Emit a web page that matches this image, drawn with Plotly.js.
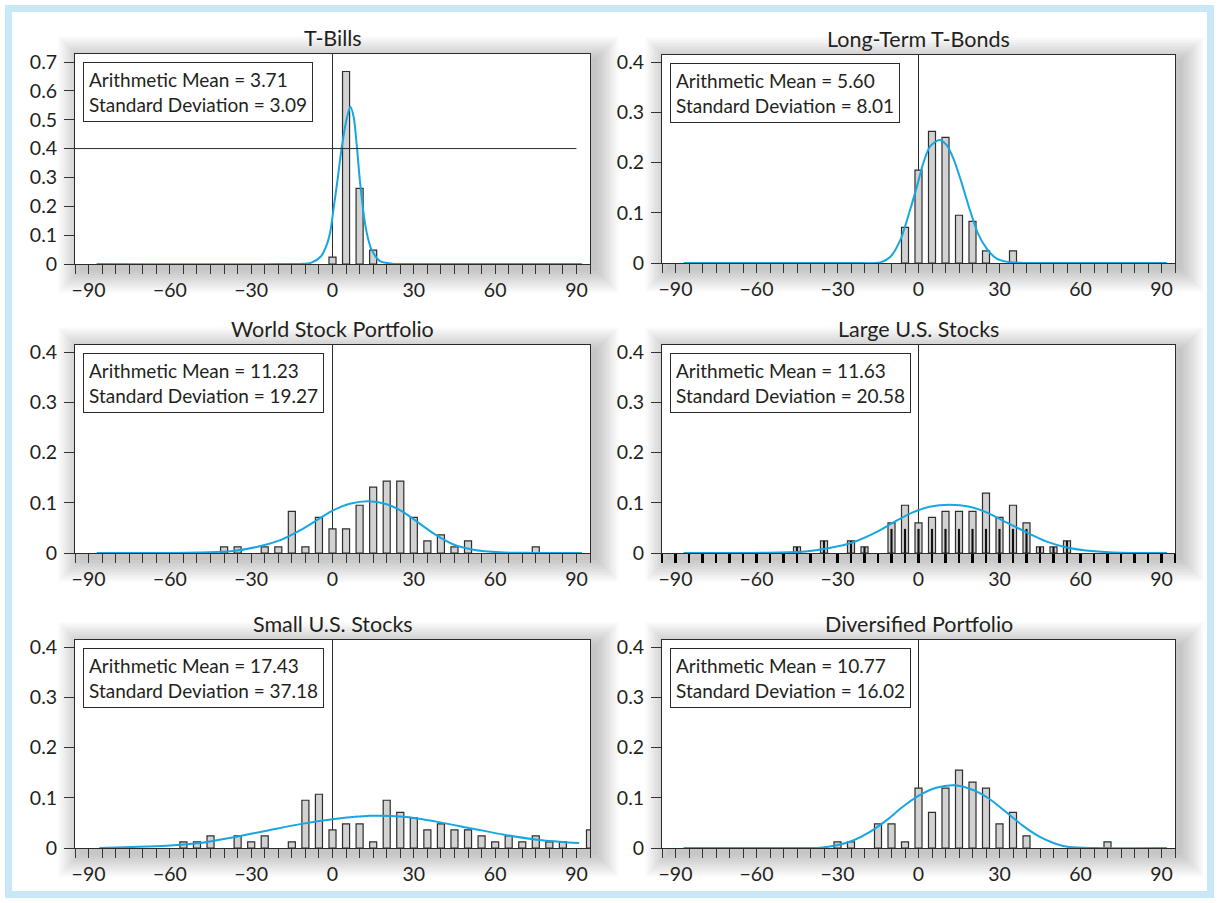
<!DOCTYPE html>
<html>
<head>
<meta charset="utf-8">
<script src="https://cdn.plot.ly/plotly-3.0.1.min.js"></script>
<style>
html,body{margin:0;padding:0;background:#ffffff;}
#chart{width:1219px;height:903px;}
</style>
</head>
<body>
<div id="chart"></div>
<script>
// ---------- DATA ----------
const panelTitles = ["T-Bills", "Long-Term T-Bonds", "World Stock Portfolio", "Large U.S. Stocks", "Small U.S. Stocks", "Diversified Portfolio"];
const arithmeticMeans = ["3.71", "5.60", "11.23", "11.63", "17.43", "10.77"];
const standardDeviations = ["3.09", "8.01", "19.27", "20.58", "37.18", "16.02"];

// histogram bins (return %, bin centre) and relative frequencies
const tbillsBins = [0, 5, 10, 15];
const tbillsFreq = [0.024, 0.667, 0.262, 0.048];

const bondsBins = [-5, 0, 5, 10, 15, 20, 25, 35];
const bondsFreq = [0.071, 0.185, 0.262, 0.250, 0.095, 0.083, 0.024, 0.024];

const worldBins = [-40, -35, -25, -20, -15, -10, -5, 0, 5, 10, 15, 20, 25, 30, 35, 40, 45, 50, 75];
const worldFreq = [0.012, 0.012, 0.012, 0.012, 0.083, 0.012, 0.071, 0.048, 0.048, 0.095, 0.131, 0.143, 0.143, 0.071, 0.024, 0.036, 0.012, 0.024, 0.012];

const largeBins = [-45, -35, -25, -20, -10, -5, 0, 5, 10, 15, 20, 25, 30, 35, 40, 45, 50, 55];
const largeFreq = [0.012, 0.024, 0.024, 0.012, 0.060, 0.095, 0.060, 0.071, 0.083, 0.083, 0.083, 0.119, 0.071, 0.095, 0.060, 0.012, 0.012, 0.024];

const smallBins = [-55, -50, -45, -35, -30, -25, -15, -10, -5, 0, 5, 10, 15, 20, 25, 30, 35, 40, 45, 50, 55, 60, 65, 70, 75, 80, 85, 95];
const smallFreq = [0.012, 0.012, 0.024, 0.024, 0.012, 0.024, 0.012, 0.095, 0.107, 0.036, 0.048, 0.048, 0.012, 0.095, 0.071, 0.060, 0.036, 0.048, 0.036, 0.036, 0.024, 0.012, 0.024, 0.012, 0.024, 0.012, 0.012, 0.036];

const diversBins = [-30, -25, -15, -10, -5, 0, 5, 10, 15, 20, 25, 30, 35, 40, 70];
const diversFreq = [0.012, 0.012, 0.048, 0.048, 0.012, 0.119, 0.071, 0.119, 0.155, 0.131, 0.119, 0.048, 0.071, 0.024, 0.012];

// fitted normal curves
const tbillsCurveX = [-87, -20, -8, -4.4, -2, -0.7, 0.5, 1.7, 3.5, 5.4, 6.6, 7.8, 9, 10.2, 12, 13.2, 14.5, 17.5, 22, 30, 92];
const tbillsCurveY = [0, 0, 0.004, 0.025, 0.07, 0.118, 0.2, 0.28, 0.41, 0.51, 0.545, 0.51, 0.406, 0.28, 0.14, 0.085, 0.048, 0.01, 0.001, 0, 0];

const bondsCurveX = [-87, -25, -14.1, -10.4, -6.7, -3.1, -0.6, 1.8, 4.3, 7.7, 10.4, 12.9, 16, 19, 22, 25.2, 28.8, 32.5, 37.4, 45, 92];
const bondsCurveY = [0, 0, 0.0013, 0.0126, 0.046, 0.106, 0.152, 0.199, 0.232, 0.245, 0.235, 0.208, 0.159, 0.106, 0.059, 0.029, 0.0093, 0.0027, 0.0005, 0, 0];

const worldCurveX = [-87, -60, -49, -36.7, -28, -19.5, -12, -5.9, 0.2, 6.4, 13.2, 20, 26, 32.3, 38.4, 44.6, 52, 61.8, 74, 92];
const worldCurveY = [0, 0.0002, 0.001, 0.004, 0.012, 0.025, 0.045, 0.065, 0.085, 0.098, 0.103, 0.097, 0.082, 0.058, 0.035, 0.017, 0.0066, 0.0013, 0.0002, 0];

const largeCurveX = [-87, -65, -51.7, -41.8, -33, -24.4, -15.8, -8.3, -2.1, 4.1, 11.5, 19, 25.2, 32.6, 40, 47.5, 55, 62, 72, 92];
const largeCurveY = [0, 0.0002, 0.0008, 0.003, 0.01, 0.021, 0.041, 0.064, 0.081, 0.092, 0.096, 0.092, 0.081, 0.061, 0.041, 0.0226, 0.011, 0.005, 0.0012, 0];

const smallCurveX = [-86, -73.8, -61.3, -48.8, -36.3, -23.8, -11.3, 0, 13.75, 26.25, 38.75, 51.25, 63.75, 76.25, 91];
const smallCurveY = [0, 0.002, 0.0046, 0.0098, 0.0216, 0.035, 0.048, 0.057, 0.064, 0.062, 0.052, 0.039, 0.026, 0.016, 0.0098];

const diversCurveX = [-87, -50, -36.5, -30.3, -24.2, -18, -11.9, -5.8, 0.4, 6.5, 13.3, 20, 26.2, 32.3, 38.5, 44.6, 50.7, 55.7, 65, 92];
const diversCurveY = [0, 0, 0.0007, 0.0053, 0.015, 0.032, 0.055, 0.082, 0.105, 0.12, 0.125, 0.116, 0.098, 0.072, 0.045, 0.023, 0.0086, 0.002, 0, 0];

const xTickVals = [-90, -60, -30, 0, 30, 60, 90];

// ---------- BUILD ----------
const W = 1219, H = 903;
const FONT = "Lato, 'Open Sans', sans-serif";
const INK = "#231f20";

const binsList = [tbillsBins, bondsBins, worldBins, largeBins, smallBins, diversBins];
const freqList = [tbillsFreq, bondsFreq, worldFreq, largeFreq, smallFreq, diversFreq];
const curveXList = [tbillsCurveX, bondsCurveX, worldCurveX, largeCurveX, smallCurveX, diversCurveX];
const curveYList = [tbillsCurveY, bondsCurveY, worldCurveY, largeCurveY, smallCurveY, diversCurveY];

// panel pixel rectangles [left, top, right, bottom]
const rects = [[75, 54, 590, 264], [662, 55, 1175, 263], [75, 345, 590, 553], [662, 345, 1175, 553], [75, 640, 590, 848], [662, 640, 1175, 848]];
const yTopTick = [0.7, 0.4, 0.4, 0.4, 0.4, 0.4];
const yTopTickPx = [62, 62, 352, 352, 647, 647];

const px = x => x / W;
const py = y => 1 - y / H;

const layout = {
  width: W, height: H,
  margin: {l: 0, r: 0, t: 0, b: 0},
  paper_bgcolor: "#ffffff",
  plot_bgcolor: "rgba(0,0,0,0)",
  showlegend: false,
  barmode: "overlay",
  font: {family: FONT, color: INK, size: 18},
  shapes: [],
  annotations: []
};
const data = [];

// shadows first
rects.forEach(r => {
  for (let k = 0; k < 10; k++) {
    const e = k * 2.4;
    layout.shapes.push({
      type: "rect", xref: "paper", yref: "paper", layer: "below",
      x0: px(r[0] + 5 - e), x1: px(r[2] + 7 + e),
      y0: py(r[3] + 7 + e), y1: py(r[1] + 4 - e),
      fillcolor: "rgba(0,0,0,0.024)", line: {width: 0}
    });
  }
});
// white plot interiors over the shadows
rects.forEach(r => {
  layout.shapes.push({
    type: "rect", xref: "paper", yref: "paper", layer: "below",
    x0: px(r[0]), x1: px(r[2]), y0: py(r[3]), y1: py(r[1]),
    fillcolor: "#ffffff", line: {width: 0}
  });
});
// light blue frame
layout.shapes.push({
  type: "rect", xref: "paper", yref: "paper", layer: "below",
  x0: px(8.5), x1: px(W - 8.5), y0: py(H - 8.5), y1: py(8.5),
  line: {color: "#c9e8f7", width: 7}, fillcolor: "rgba(0,0,0,0)"
});

for (let i = 0; i < 6; i++) {
  const n = i + 1;
  const xs = n === 1 ? "x" : "x" + n;
  const ys = n === 1 ? "y" : "y" + n;
  const xk = n === 1 ? "xaxis" : "xaxis" + n;
  const yk = n === 1 ? "yaxis" : "yaxis" + n;
  const r = rects[i];
  const yTop = yTopTick[i] * (r[3] - r[1]) / (r[3] - yTopTickPx[i]);
  const heavy = (i === 3);

  layout[xk] = {
    domain: [px(r[0]), px(r[2])],
    anchor: ys,
    range: [-95, 95],
    tickmode: "array", tickvals: xTickVals,
    ticks: "outside", ticklen: 9, tickwidth: heavy ? 2.2 : 1, tickcolor: heavy ? "#000" : "#333",
    minor: {dtick: 5, tick0: 0, ticks: "outside", ticklen: 9, tickwidth: heavy ? 2.2 : 1, tickcolor: heavy ? "#000" : "#333", showgrid: false},
    showgrid: false,
    zeroline: true, zerolinecolor: "#2b2b2b", zerolinewidth: 1,
    showline: true, linecolor: "#2b2b2b", linewidth: 1, mirror: true,
    tickfont: {family: FONT, size: 19.5, color: INK},
    fixedrange: true
  };
  layout[yk] = {
    domain: [py(r[3]), py(r[1])],
    anchor: xs,
    range: [0, yTop],
    dtick: 0.1, tick0: 0,
    ticks: "outside", ticklen: 10, tickcolor: "#333",
    showgrid: false, zeroline: false,
    showline: true, linecolor: "#2b2b2b", linewidth: 1, mirror: true,
    tickfont: {family: FONT, size: 19.5, color: INK},
    ticklabelstandoff: 3,
    fixedrange: true
  };

  data.push({
    type: "bar", x: binsList[i], y: freqList[i], xaxis: xs, yaxis: ys,
    width: 2.6,
    marker: {color: "#d2d2d2", line: {color: "#2e2e2e", width: 1.2}},
    cliponaxis: false, hoverinfo: "skip"
  });
  if (heavy) {
    data.push({
      type: "bar", x: binsList[i], y: freqList[i].map(v => Math.min(v, 0.048)), xaxis: xs, yaxis: ys,
      width: 0.8,
      marker: {color: "#111111", line: {width: 0}},
      hoverinfo: "skip"
    });
  }
  data.push({
    type: "scatter", mode: "lines", x: curveXList[i], y: curveYList[i], xaxis: xs, yaxis: ys,
    line: {color: "#16a6e1", width: 2, shape: "spline", smoothing: 0.8},
    hoverinfo: "skip"
  });

  // title
  layout.annotations.push({
    text: panelTitles[i], showarrow: false,
    xref: xs + " domain", yref: ys + " domain", x: 0.5, y: 1,
    xanchor: "center", yanchor: "bottom", yshift: 1,
    font: {family: FONT, size: 21.5, color: INK}
  });
  // stats box
  layout.annotations.push({
    text: "Arithmetic Mean = " + arithmeticMeans[i] + "<br>Standard Deviation = " + standardDeviations[i],
    showarrow: false, align: "left",
    xref: xs + " domain", yref: ys + " domain", x: 0, y: 1,
    xanchor: "left", yanchor: "top", xshift: 8, yshift: -8,
    bordercolor: "#2b2b2b", borderwidth: 1, borderpad: 5, bgcolor: "#ffffff",
    font: {family: FONT, size: 19, color: INK}
  });
}

// stray horizontal rule in the T-Bills panel
layout.shapes.push({
  type: "line", xref: "x", yref: "y", x0: -95, x1: 90, y0: 0.4, y1: 0.4,
  line: {color: "#2b2b2b", width: 1}, layer: "above"
});

Plotly.newPlot("chart", data, layout, {staticPlot: true, displayModeBar: false});
</script>
</body>
</html>
